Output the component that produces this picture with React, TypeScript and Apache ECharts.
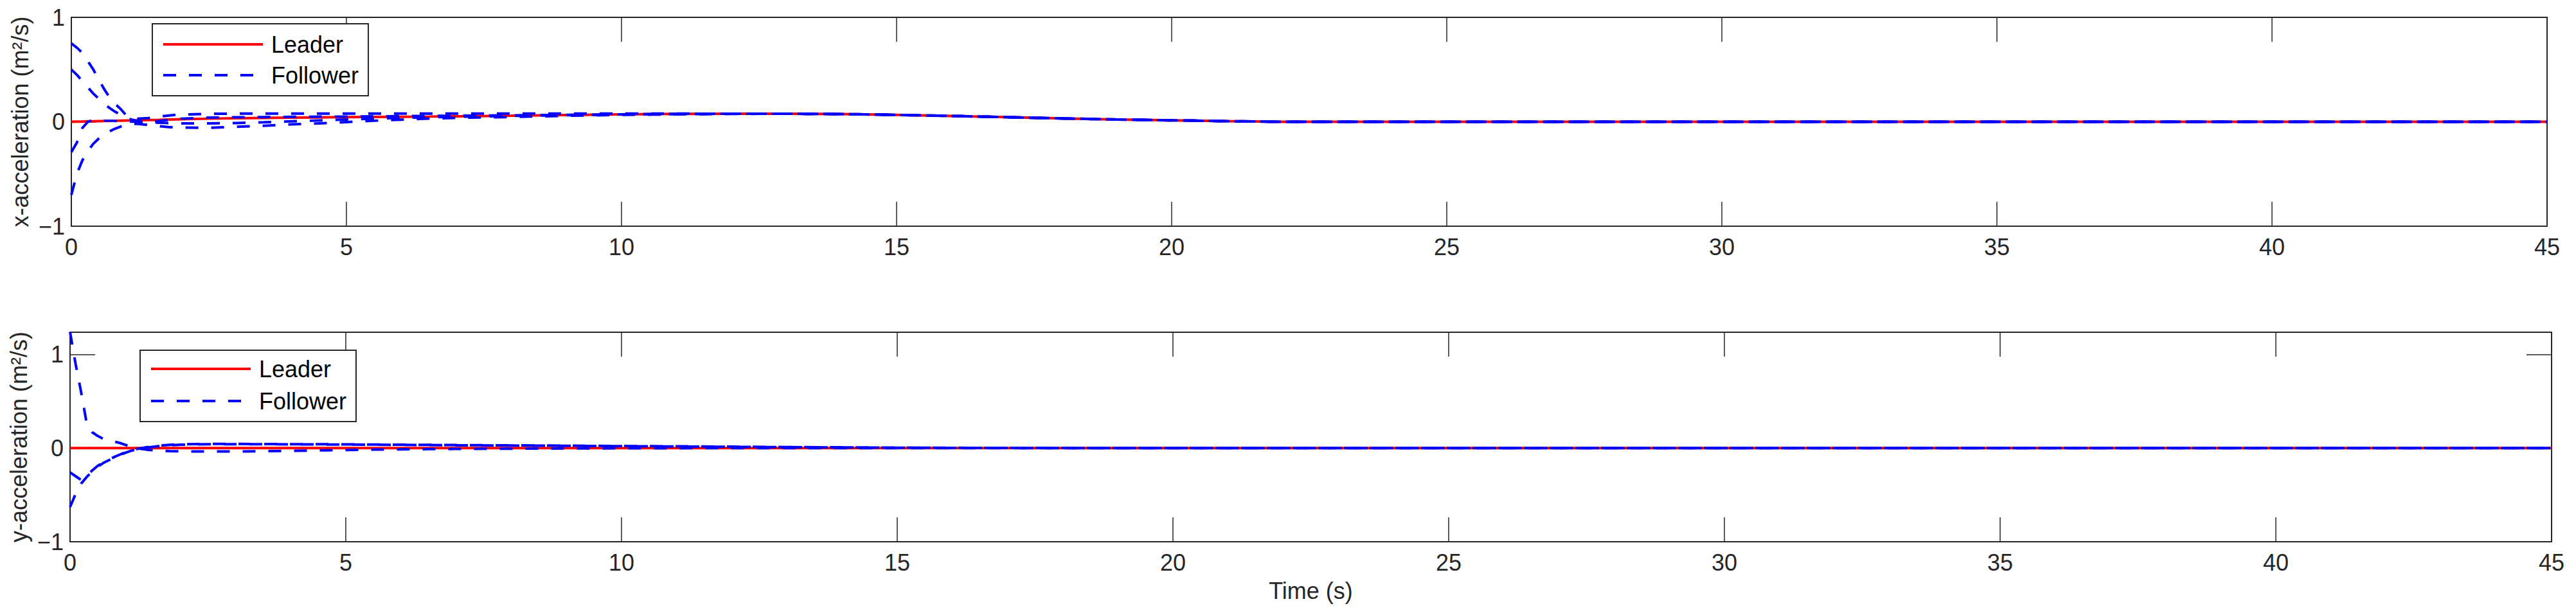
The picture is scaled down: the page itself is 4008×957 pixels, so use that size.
import React, { useEffect, useRef } from 'react';
import * as echarts from 'echarts';

// Time samples (s) shared by the series of both subplots
const timeSamples = [
  0, 0.1, 0.2, 0.3, 0.4, 0.5, 0.6, 0.7, 0.8, 0.9,
  1.0, 1.1, 1.2, 1.4, 1.6, 1.8,
  2, 2.5, 3, 3.5, 4, 4.5, 5, 5.5, 6, 6.5, 7,
  8, 9, 10, 11, 12, 13, 14, 15, 16, 17, 18, 19, 20, 21, 22,
  25, 30, 35, 40, 45,
];

// x-acceleration (top subplot)
const leaderX = [
  0, 0.001, 0.002, 0.004, 0.005, 0.006, 0.007, 0.008, 0.01, 0.011,
  0.012, 0.013, 0.014, 0.017, 0.019, 0.022,
  0.025, 0.03, 0.034, 0.037, 0.04, 0.042, 0.044, 0.046, 0.048, 0.05, 0.053,
  0.058, 0.065, 0.071, 0.075, 0.077, 0.077, 0.074, 0.066, 0.056, 0.044, 0.032, 0.022, 0.014, 0.006, 0,
  0, 0, 0, 0, 0,
];
const followerX1 = [
  0.75, 0.71, 0.66, 0.58, 0.5, 0.4, 0.31, 0.23, 0.17, 0.12,
  0.06, 0.035, 0.03, 0.036, 0.05, 0.062,
  0.07, 0.076, 0.078, 0.078, 0.078, 0.078, 0.078, 0.078, 0.078, 0.078, 0.078,
  0.078, 0.078, 0.078, 0.078, 0.077, 0.077, 0.074, 0.066, 0.056, 0.044, 0.032, 0.022, 0.014, 0.006, 0,
  0, 0, 0, 0, 0,
];
const followerX2 = [
  0.5, 0.45, 0.39, 0.33, 0.27, 0.22, 0.17, 0.13, 0.095, 0.065,
  0.04, 0.02, 0.008, 0.0, 0.008, 0.02,
  0.03, 0.04, 0.043, 0.045, 0.047, 0.049, 0.05, 0.052, 0.054, 0.056, 0.058,
  0.062, 0.066, 0.071, 0.075, 0.077, 0.077, 0.074, 0.066, 0.056, 0.044, 0.032, 0.022, 0.014, 0.006, 0,
  0, 0, 0, 0, 0,
];
const followerX3 = [
  -0.29, -0.2, -0.06, 0.0, 0.015, 0.015, 0.012, 0.01, 0.008, 0.006,
  0.004, 0.002, 0.0, -0.005, -0.01, -0.013,
  -0.015, -0.016, -0.012, -0.005, 0.004, 0.013, 0.022, 0.03, 0.037, 0.043, 0.048,
  0.056, 0.063, 0.07, 0.075, 0.077, 0.077, 0.074, 0.066, 0.056, 0.044, 0.032, 0.022, 0.014, 0.006, 0,
  0, 0, 0, 0, 0,
];
const followerX4 = [
  -0.7, -0.5, -0.37, -0.28, -0.21, -0.16, -0.12, -0.09, -0.065, -0.045,
  -0.03, -0.02, -0.02, -0.03, -0.042, -0.052,
  -0.056, -0.057, -0.048, -0.038, -0.024, -0.016, -0.003, 0.01, 0.02, 0.03, 0.038,
  0.046, 0.057, 0.066, 0.071, 0.075, 0.077, 0.074, 0.066, 0.056, 0.044, 0.032, 0.022, 0.014, 0.006, 0,
  0, 0, 0, 0, 0,
];

// y-acceleration (bottom subplot)
const leaderYTime = [0, 45];
const leaderY = [0, 0];
const followerY1 = [
  1.24, 0.9, 0.6, 0.27, 0.17, 0.13, 0.1, 0.085, 0.07, 0.055,
  0.035, 0.015, 0.0, -0.018, -0.028, -0.033,
  -0.035, -0.037, -0.036, -0.034, -0.03, -0.025, -0.02, -0.016, -0.013, -0.011, -0.009,
  -0.006, -0.004, -0.002, -0.001, 0, 0, 0, 0, 0, 0, 0, 0, 0, 0, 0,
  0, 0, 0, 0, 0,
];
const followerY2 = [
  -0.26, -0.3, -0.34, -0.3, -0.24, -0.19, -0.155, -0.125, -0.095, -0.07,
  -0.045, -0.025, -0.01, 0.01, 0.025, 0.035,
  0.04, 0.044, 0.044, 0.043, 0.042, 0.041, 0.04, 0.038, 0.036, 0.034, 0.032,
  0.029, 0.026, 0.022, 0.019, 0.015, 0.011, 0.008, 0.005, 0.003, 0.002, 0.001, 0, 0, 0, 0,
  0, 0, 0, 0, 0,
];
const followerY3 = [
  -0.63, -0.49, -0.38, -0.31, -0.25, -0.2, -0.16, -0.13, -0.1, -0.075,
  -0.05, -0.03, -0.015, 0.005, 0.02, 0.03,
  0.036, 0.041, 0.042, 0.041, 0.04, 0.039, 0.038, 0.036, 0.034, 0.032, 0.03,
  0.027, 0.024, 0.02, 0.017, 0.013, 0.01, 0.007, 0.004, 0.002, 0.001, 0, 0, 0, 0, 0,
  0, 0, 0, 0, 0,
];

const xTicks = { min: 0, max: 45, interval: 5 };
const seriesNames = ['Leader', 'Follower'];
const axisNames = ['x-acceleration (m\u00B2/s)', 'y-acceleration (m\u00B2/s)', 'Time (s)'];

const AXIS_COLOR = '#262626';
const FONT = '"Liberation Sans", Arial, Helvetica, sans-serif';
const FS = 36;

const pairs = (ts: number[], vs: number[]) => ts.map((t, i) => [t, vs[i]]);

const tickFmt = (v: number) => {
  if (Math.abs(v - Math.round(v)) > 1e-9) return '';
  const r = Math.round(v);
  return r < 0 ? '\u2212' + Math.abs(r) : String(r);
};

function xAxes(gridIndex: number, withName: boolean) {
  const base = {
    type: 'value',
    gridIndex,
    ...xTicks,
    axisLine: { show: true, onZero: false, lineStyle: { color: AXIS_COLOR, width: 2 } },
    axisTick: { show: true, inside: true, length: 38, lineStyle: { color: AXIS_COLOR, width: 1.5 } },
    splitLine: { show: false },
  };
  return [
    {
      ...base,
      position: 'bottom',
      axisLabel: { show: true, margin: 14, fontSize: FS, color: AXIS_COLOR, fontFamily: FONT },
      ...(withName
        ? {
            name: axisNames[2],
            nameLocation: 'middle',
            nameGap: 58,
            nameTextStyle: { fontSize: FS, color: AXIS_COLOR, fontFamily: FONT },
          }
        : {}),
    },
    { ...base, position: 'top', axisLabel: { show: false } },
  ];
}

function yAxes(gridIndex: number, maxV: number, name: string) {
  const base = {
    type: 'value',
    gridIndex,
    min: -1,
    max: maxV,
    interval: 1,
    axisLine: { show: true, onZero: false, lineStyle: { color: AXIS_COLOR, width: 2 } },
    axisTick: { show: true, inside: true, length: 39, lineStyle: { color: AXIS_COLOR, width: 1.5 } },
    splitLine: { show: false },
  };
  return [
    {
      ...base,
      position: 'left',
      axisLabel: { show: true, margin: 10, fontSize: FS, color: AXIS_COLOR, fontFamily: FONT, formatter: tickFmt },
      name,
      nameLocation: 'middle',
      nameGap: 43,
      nameTextStyle: { fontSize: FS, color: AXIS_COLOR, fontFamily: FONT },
    },
    { ...base, position: 'right', axisLabel: { show: false } },
  ];
}

const leaderStyle = { color: '#FF0000', width: 4, type: 'solid' };
const followerStyle = { color: '#0000FF', width: 4, type: [20, 20] };

function line(name: string, data: number[][], axisIdx: number, isLeader: boolean) {
  return {
    type: 'line',
    name,
    xAxisIndex: axisIdx,
    yAxisIndex: axisIdx,
    data,
    symbol: 'none',
    showSymbol: false,
    clip: true,
    smooth: false,
    color: isLeader ? '#FF0000' : '#0000FF',
    lineStyle: isLeader ? leaderStyle : followerStyle,
    emphasis: { disabled: true },
  };
}

function legendAt(left: number, top: number, padding: number[], itemGap: number) {
  return {
    orient: 'vertical',
    left,
    top,
    data: seriesNames,
    itemWidth: 155,
    itemHeight: 36,
    itemGap,
    padding,
    borderColor: AXIS_COLOR,
    borderWidth: 2,
    backgroundColor: '#ffffff',
    selectedMode: false,
    itemStyle: { color: 'rgba(0,0,0,0)', borderWidth: 0, opacity: 0 },
    lineStyle: { width: 4 },
    textStyle: { fontSize: FS, lineHeight: 36, color: '#000', fontFamily: FONT, padding: [0, 0, 0, 8] },
  };
}

export default function App() {
  const ref = useRef<HTMLDivElement>(null);
  useEffect(() => {
    document.body.style.margin = '0';
    if (!ref.current) return;
    const chart = echarts.init(ref.current, null, { renderer: 'svg' });
    const option = {
      animation: false,
      backgroundColor: '#ffffff',
      textStyle: { fontFamily: FONT },
      grid: [
        { left: 111, top: 27, width: 3852, height: 325, containLabel: false, outerBoundsMode: 'none' },
        { left: 109, top: 517, width: 3861, height: 326, containLabel: false, outerBoundsMode: 'none' },
      ],
      xAxis: [...xAxes(0, false), ...xAxes(1, true)],
      yAxis: [...yAxes(0, 1, axisNames[0]), ...yAxes(1, 1.237, axisNames[1])],
      legend: [legendAt(237, 37, [14, 15, 14, 15], 12), legendAt(218, 545, [11, 15, 14, 15], 14)],
      series: [
        line(seriesNames[0], pairs(timeSamples, leaderX), 0, true),
        line(seriesNames[1], pairs(timeSamples, followerX1), 0, false),
        line(seriesNames[1], pairs(timeSamples, followerX2), 0, false),
        line(seriesNames[1], pairs(timeSamples, followerX3), 0, false),
        line(seriesNames[1], pairs(timeSamples, followerX4), 0, false),
        line(seriesNames[0], pairs(leaderYTime, leaderY), 2, true),
        line(seriesNames[1], pairs(timeSamples, followerY1), 2, false),
        line(seriesNames[1], pairs(timeSamples, followerY2), 2, false),
        line(seriesNames[1], pairs(timeSamples, followerY3), 2, false),
      ],
    };
    chart.setOption(option as any);
    return () => chart.dispose();
  }, []);
  return <div ref={ref} style={{ width: 4008, height: 957 }} />;
}
